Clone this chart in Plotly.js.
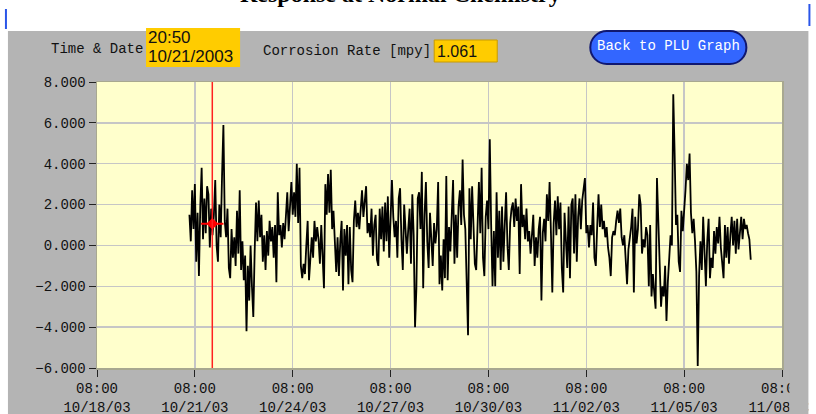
<!DOCTYPE html>
<html><head><meta charset="utf-8">
<script src="https://cdn.plot.ly/plotly-3.0.1.min.js"></script>
<style>html,body{margin:0;padding:0;background:#ffffff;}#chart{width:816px;height:414px;}</style>
</head><body><div id="chart"></div>
<script>
// ---------------- data ----------------
const seriesStart = "2003-10-21T04:00:00Z";   // first reading
const stepHours = 1;                            // one reading per hour
const rate = [
1.5,0.2,2.7,0.8,3.0,-0.8,1.6,-1.5,1.9,3.8,
0.3,2.3,0.6,2.9,2.5,-0.1,1.8,0.5,1.5,3.2,
0.0,-0.8,2.0,0.4,3.4,5.9,1.2,0.4,1.8,-1.1,
-1.6,0.8,-0.6,0.4,-1.0,1.7,-0.4,2.7,-1.2,0.2,
-1.7,-0.5,-4.2,-1.0,-2.7,0.0,-2.0,-3.5,-0.3,2.1,
0.2,2.2,0.4,1.5,-0.8,0.5,-1.2,0.7,-0.5,1.2,
0.2,0.9,-0.6,1.0,-1.8,2.6,0.5,
1.0,-0.1,1.1,0.3,1.8,2.6,0.7,1.9,3.1,1.5,
2.6,1.4,4.0,1.1,3.8,-1.0,-1.6,-0.9,-1.4,0.0,
1.2,-1.7,-0.5,0.4,-0.6,1.2,0.2,0.9,0.3,-0.9,
1.0,-1.0,-2.1,3.0,1.5,3.5,1.6,3.7,0.8,1.7,
0.1,-1.3,0.4,-1.5,0.2,1.2,-2.2,0.8,-0.5,1.0,
-1.9,0.9,-1.2,-1.8,1.2,2.2,0.9,1.6,0.8,2.0,
2.7,1.4,2.2,2.9,0.6,1.1,0.4,1.8,-0.5,1.0,
1.5,-0.7,-1.0,1.8,0.3,1.9,-0.3,2.1,0.2,2.4,
-0.6,1.9,3.2,1.4,0.4,1.2,-0.6,2.3,2.8,0.3,
-1.2,2.0,0.5,-0.4,0.8,1.8,-0.9,2.5,0.5,-4.0,
-2.1,2.3,2.6,0.8,3.6,-2.1,1.5,3.1,0.2,-1.1,
1.6,0.2,-1.0,1.1,0.1,0.8,3.1,-1.9,-0.5,-2.2,
0.3,-1.6,3.4,-1.7,0.9,-0.3,1.7,3.2,-0.9,1.5,
-0.6,1.9,2.7,1.0,4.2,1.5,0.8,-1.9,-4.4,
2.8,0.3,2.9,0.8,-0.9,-1.2,1.6,3.1,0.6,3.8,
-0.6,-1.5,1.4,2.2,0.8,5.2,1.0,-2.0,0.7,-2.0,
2.6,-0.6,1.7,-1.2,1.9,-0.8,1.0,2.6,0.0,-1.2,
1.1,1.8,2.1,0.9,2.3,1.2,1.9,-1.4,3.0,0.9,
1.5,0.3,1.8,0.2,0.7,-0.4,0.5,1.5,-1.0,0.4,
-0.6,0.8,1.4,-2.7,0.6,1.3,0.2,2.5,1.2,3.1,
0.6,-2.3,1.1,2.2,0.5,2.4,0.8,2.1,-1.1,-2.3,
1.6,-0.1,-1.1,1.9,-1.6,2.0,2.3,-0.4,2.5,-0.8,
1.4,2.3,0.8,2.2,2.7,3.3,0.6,1.0,-0.1,1.0,
0.5,2.1,-0.6,-1.0,0.9,2.5,0.9,2.0,0.8,1.2,
0.4,0.9,-0.1,-0.6,-1.5,0.4,0.7,0.5,1.2,1.7,
1.1,1.8,0.4,0.0,0.5,-0.9,-1.9,-0.2,0.3,0.9,
1.8,-2.3,1.4,0.1,0.8,2.5,2.0,-0.4,0.3,-0.1,
0.9,0.5,-2.0,1.0,-2.5,-1.4,-2.3,-3.1,3.3,
0.8,-1.4,-3.0,-2.0,-2.5,-1.0,-3.7,-1.8,-0.5,0.5,
0.0,7.4,4.5,1.0,1.5,-0.8,-1.3,1.7,0.7,1.5,
2.7,4.0,3.2,4.5,1.6,0.6,1.3,0.2,-1.3,-5.9,
-1.5,0.2,-1.2,1.4,-0.6,-2.0,0.2,1.3,-1.6,-0.6,
-1.1,0.7,-0.4,0.9,0.1,1.4,-0.1,-0.8,-1.6,1.0,
-0.6,0.9,-0.9,0.5,1.4,0.0,1.2,-0.4,1.3,-0.2,
0.5,1.4,0.3,1.3,0.8,1.0,0.6,0.3,-0.7
];
const cursorTime = "2003-10-21 20:50";
const cursorValue = 1.061;
const cursorTimeLabel = "20:50";
const cursorDateLabel = "10/21/2003";
const rateLabel = "1.061";
const xRange = ["2003-10-18 08:00", "2003-11-08 08:00"];
const xTick0 = "2003-10-18 08:00";
const xTickDays = 3;
const yRange = [-6, 8];
const yTickStep = 2;
const titleText = "Response at Normal Chemistry";
const labelTimeDate = "Time & Date";
const labelRate = "Corrosion Rate [mpy]";
const buttonText = "Back to PLU Graph";

// ---------------- build ----------------
const t0 = Date.parse(seriesStart);
const times = rate.map((v, i) => new Date(t0 + i * stepHours * 3600000).toISOString().slice(0, 16).replace('T', ' '));

const W = 816, H = 414;
const L = 97, R = 781.6, T = 82, B = 368;
const fx = p => (p - L) / (R - L);
const fy = p => (B - p) / (B - T);

const mono = "Liberation Mono";
const sans = "Liberation Sans";
const panel = "#b4b4b4";
const gold = "#ffcc00";

function rectShape(x0, y0, x1, y1, fill, line) {
  return {type: 'rect', xref: 'paper', yref: 'paper', layer: 'above',
    x0: fx(x0), x1: fx(x1), y0: fy(y1), y1: fy(y0), fillcolor: fill,
    line: line || {width: 0}};
}
function capsulePath(x0, y0, x1, y1) {
  const r = (y1 - y0) / 2, k = 0.5523 * r;
  const P = (x, y) => fx(x).toFixed(5) + ',' + fy(y).toFixed(5);
  return 'M' + P(x0 + r, y0) + ' L' + P(x1 - r, y0) +
    ' C' + P(x1 - r + k, y0) + ' ' + P(x1, y0 + r - k) + ' ' + P(x1, y0 + r) +
    ' C' + P(x1, y0 + r + k) + ' ' + P(x1 - r + k, y1) + ' ' + P(x1 - r, y1) +
    ' L' + P(x0 + r, y1) +
    ' C' + P(x0 + r - k, y1) + ' ' + P(x0, y0 + r + k) + ' ' + P(x0, y0 + r) +
    ' C' + P(x0, y0 + r - k) + ' ' + P(x0 + r - k, y0) + ' ' + P(x0 + r, y0) + ' Z';
}

const traces = [
  {x: times, y: rate, type: 'scatter', mode: 'lines',
   line: {color: '#000000', width: 1.8}, hoverinfo: 'skip', showlegend: false},
  {x: [cursorTime], y: [cursorValue], type: 'scatter', mode: 'markers',
   marker: {symbol: 'line-ew', size: 16, color: '#ff0000', line: {color: '#ff0000', width: 2}},
   hoverinfo: 'skip', showlegend: false},
  {x: [cursorTime], y: [cursorValue], type: 'scatter', mode: 'markers',
   marker: {symbol: 'diamond', size: 9, color: '#ff0000'},
   hoverinfo: 'skip', showlegend: false}
];

const shapes = [
  // red cursor line
  {type: 'line', xref: 'x', yref: 'paper', x0: cursorTime, x1: cursorTime, y0: 0, y1: 1,
   layer: 'above', line: {color: '#ff2020', width: 1.5}},
  // clip of the graph control at its right edge (cuts the last tick label)
  rectShape(789, 369, 808, H, panel),
  // white window area around the gray panel
  rectShape(0, 0, W, 31, '#ffffff'),
  rectShape(0, 0, 8, H, '#ffffff'),
  rectShape(808, 0, W, H, '#ffffff'),
  // blue window edges
  {type: 'line', xref: 'paper', yref: 'paper', layer: 'above', x0: fx(6), x1: fx(6), y0: fy(29), y1: fy(9), line: {color: '#2a55e8', width: 2}},
  {type: 'line', xref: 'paper', yref: 'paper', layer: 'above', x0: fx(809), x1: fx(809), y0: fy(26), y1: fy(4), line: {color: '#2a55e8', width: 2}},
  // yellow indicators
  rectShape(146, 28, 240, 67, gold),
  rectShape(434, 40, 497, 62, gold, {color: '#c89a00', width: 1}),
  // button
  {type: 'path', xref: 'paper', yref: 'paper', layer: 'above', path: capsulePath(590, 31, 746, 64),
   fillcolor: '#3366ff', line: {color: '#101870', width: 2}}
];

const ann = (text, x, y, opts) => Object.assign({
  text: text, xref: 'paper', yref: 'paper', x: fx(x), y: fy(y), showarrow: false,
  xanchor: 'left', yanchor: 'middle', font: {family: mono, size: 14, color: '#111111'}
}, opts || {});

const annotations = [
  ann('<b>' + titleText + '</b>', 400, 9, {xanchor: 'center', yanchor: 'bottom',
    font: {family: 'Liberation Serif', size: 24, color: '#000000'}}),
  ann(labelTimeDate, 49, 49),
  ann(cursorTimeLabel, 146, 37, {font: {family: sans, size: 17, color: '#111111'}}),
  ann(cursorDateLabel, 146, 57, {font: {family: sans, size: 17, color: '#111111'}}),
  ann(labelRate, 261, 51),
  ann(rateLabel, 435, 51, {font: {family: sans, size: 16, color: '#111111'}}),
  ann(buttonText, 668, 46, {xanchor: 'center', font: {family: mono, size: 14, color: '#ffffff'}})
];

const layout = {
  width: W, height: H,
  margin: {l: L, r: W - R, t: T, b: H - B, pad: 0},
  paper_bgcolor: panel, plot_bgcolor: '#ffffcc',
  showlegend: false,
  xaxis: {type: 'date', range: xRange, tick0: xTick0, dtick: xTickDays * 86400000,
    tickformat: '%H:%M<br>%m/%d/%y', ticks: 'outside', ticklen: 7, tickwidth: 1, tickcolor: '#222222',
    showgrid: true, gridcolor: '#c6c6c6', gridwidth: 1.5, zeroline: false,
    showline: true, linecolor: '#a8a890', linewidth: 1.5, mirror: true,
    tickfont: {family: mono, size: 14, color: '#111111'}, fixedrange: true},
  yaxis: {range: yRange, dtick: yTickStep, tick0: 0, tickformat: '.3f',
    ticks: 'outside', ticklen: 7, tickwidth: 1, tickcolor: '#222222',
    showgrid: true, gridcolor: '#c6c6c6', gridwidth: 1.5, zeroline: false,
    showline: true, linecolor: '#a8a890', linewidth: 1.5, mirror: true,
    tickfont: {family: mono, size: 14, color: '#111111'}, fixedrange: true},
  shapes: shapes,
  annotations: annotations
};

Plotly.newPlot('chart', traces, layout, {displayModeBar: false, staticPlot: true});
</script>
</body></html>
